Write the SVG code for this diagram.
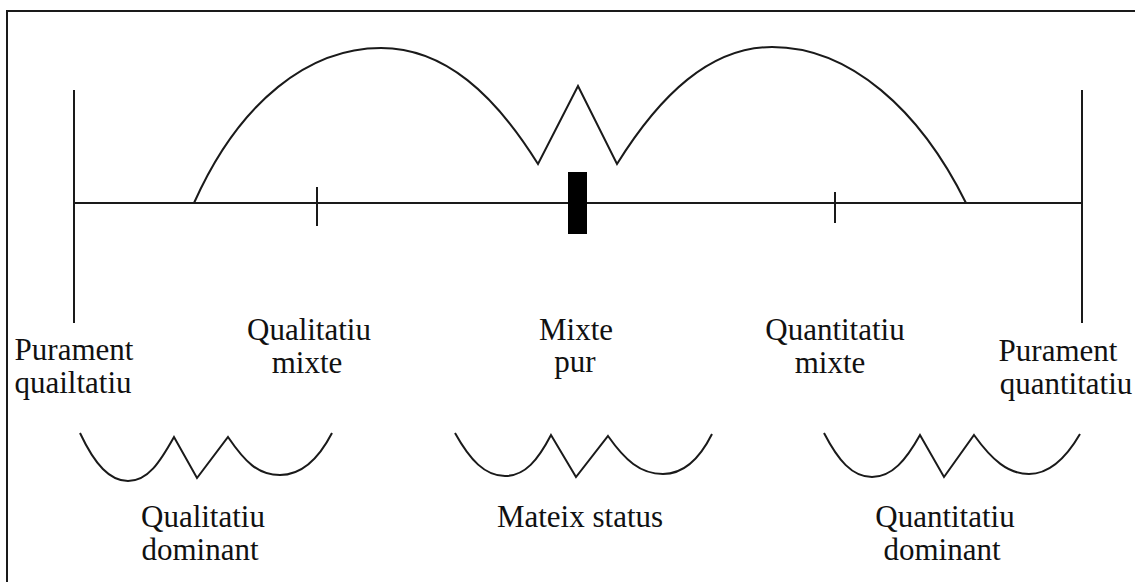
<svg xmlns="http://www.w3.org/2000/svg" width="1135" height="582" viewBox="0 0 1135 582">
<style>
.ln{stroke:#1a1a1a;stroke-width:2;fill:none;stroke-linecap:butt}
.tx{font-family:"Liberation Serif","Times New Roman",serif;font-size:31px;fill:#111;text-anchor:middle}
</style>
<rect x="0" y="0" width="1135" height="582" fill="#fff"/>
<g id="frame">
<path class="ln" d="M7,582 L7,11 L1135,11" stroke-width="2.5"/>
</g>
<g id="connectors">
<line class="ln" x1="74" y1="203" x2="1082" y2="203"/>
<line class="ln" x1="74" y1="90" x2="74" y2="323"/>
<line class="ln" x1="1082" y1="90" x2="1082" y2="323"/>
<line class="ln" x1="317" y1="187" x2="317" y2="226"/>
<line class="ln" x1="835" y1="192" x2="835" y2="223"/>
<rect x="568" y="172" width="19" height="62" fill="#000"/>
<path class="ln" d="M194,203 C240,100 310,48 381,48 C445,48 495,95 538,164 L578,86 L617,164 C660,95 710,47 772,47 C850,47 920,110 966,203"/>
<path class="ln" d="M80,433 C95,465 110,481 128,481 C148,481 160,462 174,437 L197,478 L228,437 C245,462 258,475 280,475 C300,475 318,460 332,433"/>
<path class="ln" d="M455,433 C470,460 485,476 505,476 C525,476 538,460 551,435 L576,477 L608,436 C625,460 640,474 663,474 C685,474 700,458 712,434"/>
<path class="ln" d="M824,433 C838,460 852,477 872,477 C892,477 906,460 920,435 L944,477 L974,435 C992,460 1008,474 1029,474 C1050,474 1066,458 1080,434"/>
</g>
<g id="purament-qualitatiu">
<text class="tx" x="74" y="360">Purament</text>
<text class="tx" x="73" y="393">quailtatiu</text>
</g>
<g id="qualitatiu-mixte">
<text class="tx" x="309" y="340">Qualitatiu</text>
<text class="tx" x="307" y="373">mixte</text>
</g>
<g id="mixte-pur">
<text class="tx" x="576" y="340">Mixte</text>
<text class="tx" x="575" y="372">pur</text>
</g>
<g id="quantitatiu-mixte">
<text class="tx" x="835" y="340">Quantitatiu</text>
<text class="tx" x="830" y="373">mixte</text>
</g>
<g id="purament-quantitatiu">
<text class="tx" x="1058" y="361">Purament</text>
<text class="tx" x="1066" y="394">quantitatiu</text>
</g>
<g id="qualitatiu-dominant">
<text class="tx" x="203" y="527">Qualitatiu</text>
<text class="tx" x="200" y="560">dominant</text>
</g>
<g id="mateix-status">
<text class="tx" x="580" y="527">Mateix status</text>
</g>
<g id="quantitatiu-dominant">
<text class="tx" x="945" y="527">Quantitatiu</text>
<text class="tx" x="942" y="560">dominant</text>
</g>
</svg>
